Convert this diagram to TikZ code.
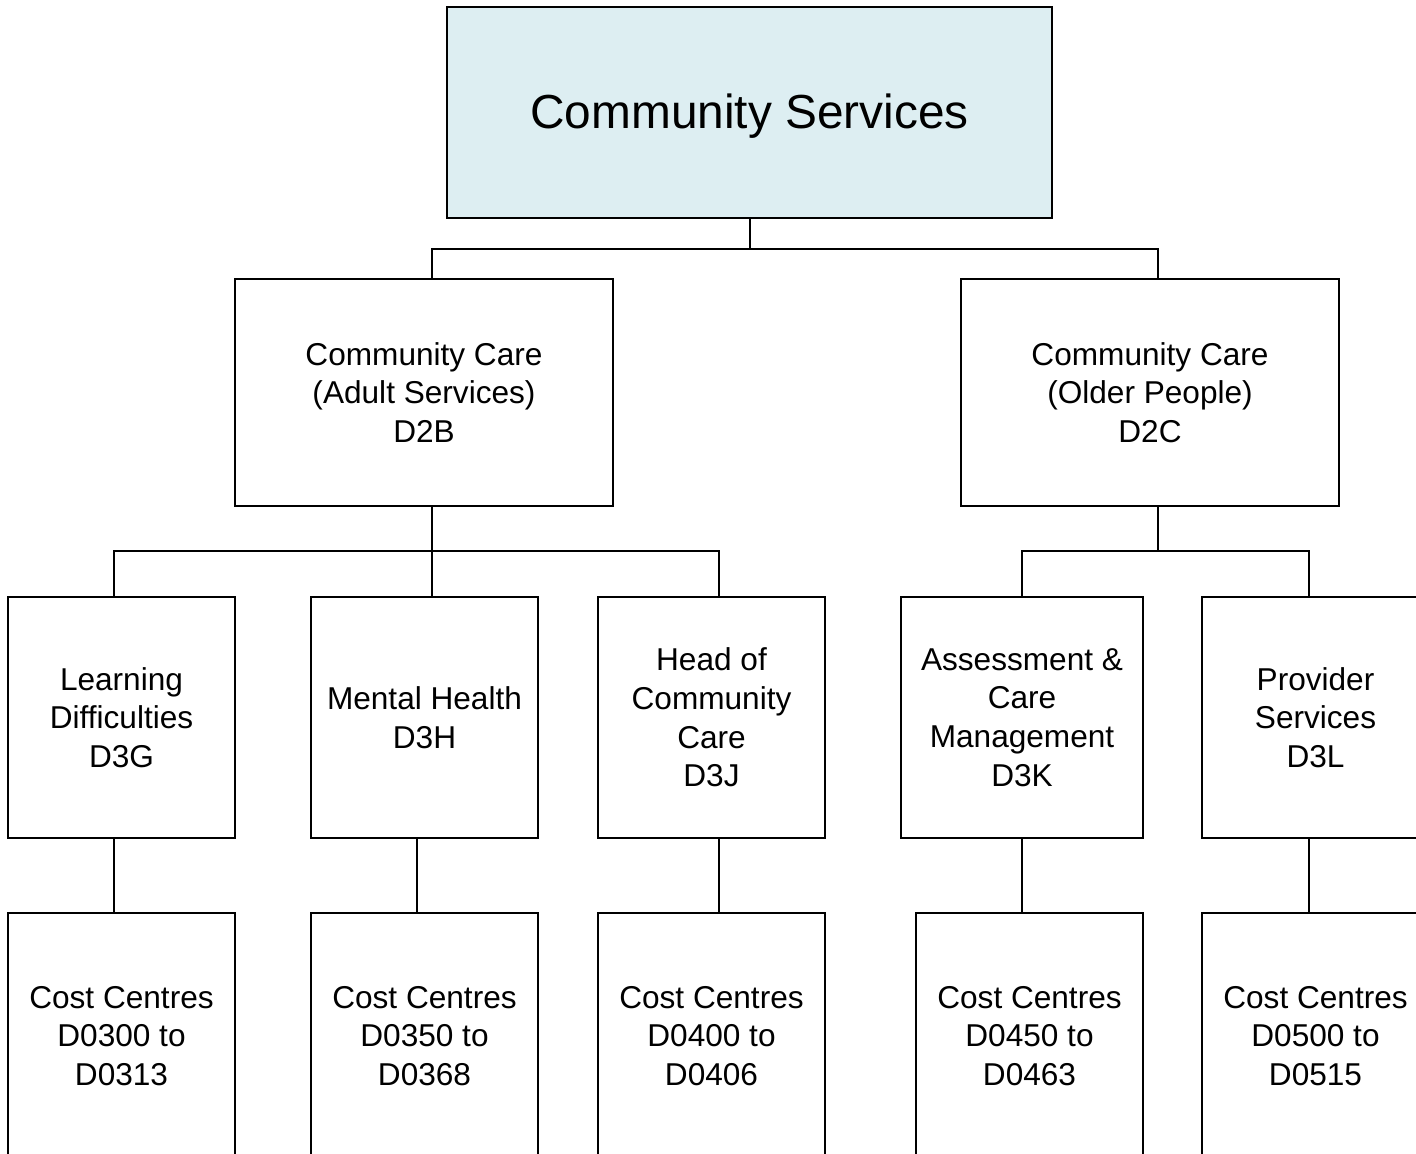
\documentclass[tikz,border=0pt]{standalone}
\usepackage{fontspec}
\setmainfont{Liberation Sans}
\definecolor{headfill}{RGB}{221,238,242}
\begin{document}
\begin{tikzpicture}[x=0.5pt,y=-0.5pt,
  line width=1pt,
  orgbox/.style={draw=black, rectangle, inner sep=0pt, align=center,
    font=\fontsize{15.8pt}{19.3pt}\selectfont},
  narrow/.style={orgbox, minimum width=113.5pt},
  unit/.style={narrow, minimum height=120.5pt},
  cost/.style={narrow, minimum height=123pt},
  link/.style={draw=black, line width=1pt}]
\useasboundingbox (0,0) rectangle (1416,1153);
\clip (0,0) rectangle (1416,1153);

% top level
\node[orgbox, fill=headfill, minimum width=302.5pt, minimum height=105.5pt,
  text height=16.4pt, text depth=0pt,
  font=\fontsize{23.9pt}{28pt}\selectfont] (top) at (749.5,112.5) {Community Services};

% second level
\node[orgbox, minimum width=189pt, minimum height=113.5pt] (adult) at (424,392.5)
  {Community Care\\(Adult Services)\\D2B};
\node[orgbox, minimum width=189pt, minimum height=113.5pt] (older) at (1150,392.5)
  {Community Care\\(Older People)\\D2C};

% third level
\node[unit] (ld) at (121.5,717.5) {Learning\\Difficulties\\D3G};
\node[unit] (mh) at (424.5,717.5) {Mental Health\\D3H};
\node[unit] (hc) at (711.5,717.5) {Head of\\Community\\Care\\D3J};
\node[unit, minimum width=121pt] (ac) at (1022,717.5) {Assessment \&\\Care\\Management\\D3K};
\node[unit] (ps) at (1315.5,717.5) {Provider\\Services\\D3L};

% cost centres
\node[cost] (cld) at (121.5,1036) {Cost Centres\\D0300 to\\D0313};
\node[cost] (cmh) at (424.5,1036) {Cost Centres\\D0350 to\\D0368};
\node[cost] (chc) at (711.5,1036) {Cost Centres\\D0400 to\\D0406};
\node[cost] (cac) at (1029.5,1036) {Cost Centres\\D0450 to\\D0463};
\node[cost] (cps) at (1315.5,1036) {Cost Centres\\D0500 to\\D0515};

% connector end points on the box edges
\coordinate (adultIn) at (432,279);
\coordinate (olderIn) at (1158,279);
\coordinate (adultOut) at (432,506);
\coordinate (olderOut) at (1158,506);
\coordinate (ldIn) at (114,597);
\coordinate (mhIn) at (432,597);
\coordinate (hcIn) at (719,597);
\coordinate (acIn) at (1022,597);
\coordinate (psIn) at (1309,597);

% connectors
\draw[link] (top.south) -- ++(0,30) -| (adultIn);
\draw[link] (top.south) -- ++(0,30) -| (olderIn);
\draw[link] (adultOut) -- ++(0,45) -| (ldIn);
\draw[link] (adultOut) -- (mhIn);
\draw[link] (adultOut) -- ++(0,45) -| (hcIn);
\draw[link] (olderOut) -- ++(0,45) -| (acIn);
\draw[link] (olderOut) -- ++(0,45) -| (psIn);

\draw[link] (ld.south -| 114,0) -- (cld.north -| 114,0);
\draw[link] (mh.south -| 417,0) -- (cmh.north -| 417,0);
\draw[link] (hc.south -| 719,0) -- (chc.north -| 719,0);
\draw[link] (ac.south -| 1022,0) -- (cac.north -| 1022,0);
\draw[link] (ps.south -| 1309,0) -- (cps.north -| 1309,0);
\end{tikzpicture}
\end{document}
